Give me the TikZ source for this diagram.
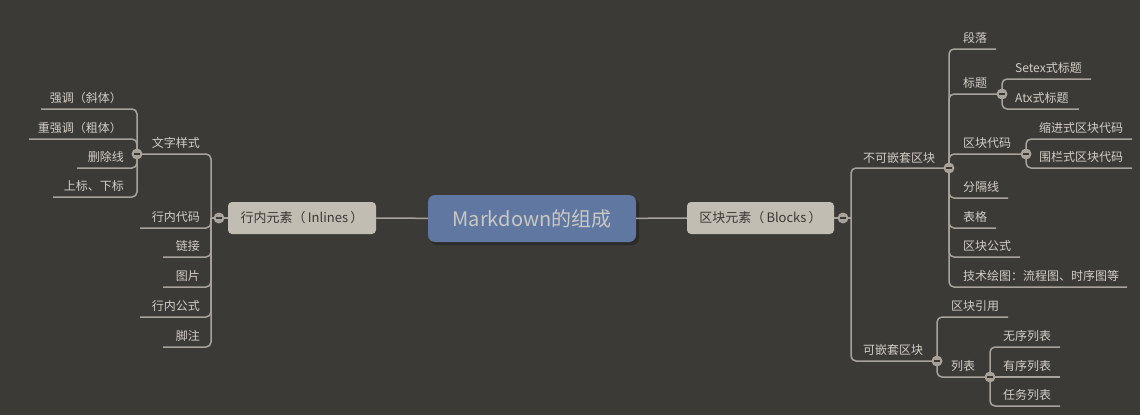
\documentclass[tikz,border=0pt]{standalone}
\usepackage{fontspec}
\setmainfont{Noto Sans CJK SC}
\definecolor{bg}{HTML}{3C3A37}
\definecolor{lc}{HTML}{A8A39A}
\definecolor{tc}{HTML}{D2CEC6}
\definecolor{nc}{HTML}{C2BDB2}
\definecolor{ntc}{HTML}{3A3835}
\definecolor{rc}{HTML}{5F77A1}
\definecolor{rtc}{HTML}{CBC8C2}
\begin{document}
\begin{tikzpicture}[x=1pt,y=-1pt,
  conn/.style={draw=lc, line width=1.5pt, rounded corners=5pt},
  lbl/.style={inner sep=0pt, text=tc, font=\fontsize{12pt}{14pt}\selectfont},
  lblr/.style={lbl, anchor=base west},
  lbll/.style={lbl, anchor=base east},
  toggle/.style={circle, fill=lc, minimum size=11pt, inner sep=0pt,
    path picture={\draw[bg, line width=1.4pt] ([xshift=-3pt]path picture bounding box.center) -- ([xshift=3pt]path picture bounding box.center);}},
  mainbox/.style={rounded corners=4pt, fill=nc, text=ntc, font=\fontsize{13pt}{15pt}\selectfont, minimum height=32pt, inner sep=0pt},
  rootbox/.style={rounded corners=7pt, fill=rc, text=rtc, font=\fontsize{20pt}{24pt}\selectfont, minimum height=47pt, minimum width=208pt, inner sep=0pt}
]
\fill[bg] (0,0) rectangle (1140,415);
\useasboundingbox (0,0) rectangle (1140,415);

% shadow of root
\fill[black, opacity=0.25, rounded corners=7pt] (430,198) rectangle (639,245);

% main nodes
\node[rootbox] (root) at (532,218.5) {Markdown的组成};
\node[mainbox, minimum width=148pt] (inl) at (302,218) {行内元素（\,Inlines\,）};
\node[mainbox, minimum width=147pt] (blk) at (760.5,218) {区块元素（\,Blocks\,）};

% toggle positions
\coordinate (tLp) at (219,218);
\coordinate (tRp) at (843,218);
\coordinate (tWp) at (137,154);
\coordinate (tNp) at (949,168);
\coordinate (tKp) at (937,361);
\coordinate (tTp) at (1002,94);
\coordinate (tQp) at (1026,154);
\coordinate (tLbp) at (990,377);
\coordinate (jL) at (211,218);
\coordinate (jR) at (851,218);

% left labels
\node[lbll] (wz) at (200,147) {文字样式};
\node[lbll] (hndm) at (200,221) {行内代码};
\node[lbll] (lj) at (200,250) {链接};
\node[lbll] (tp) at (200,280) {图片};
\node[lbll] (hngs) at (200,310) {行内公式};
\node[lbll] (jz) at (200,340) {脚注};
\node[lbll] (qd) at (122,102) {强调（斜体）};
\node[lbll] (zqd) at (122,132) {重强调（粗体）};
\node[lbll] (scx) at (124,161) {删除线};
\node[lbll] (sb) at (124,190) {上标、下标};

% right labels
\node[lblr] (bkq) at (863,162) {不可嵌套区块};
\node[lblr] (kq) at (863,354) {可嵌套区块};
\node[lblr] (dl) at (963,42) {段落};
\node[lblr] (bt) at (963,87) {标题};
\node[lblr] (qkdm) at (963,147) {区块代码};
\node[lblr] (fgx) at (963,191) {分隔线};
\node[lblr] (bg) at (963,221) {表格};
\node[lblr] (qkgs) at (963,250) {区块公式};
\node[lblr] (jsht) at (963,280) {技术绘图：流程图、时序图等};
\node[lblr] (setex) at (1015,72) {Setex式标题};
\node[lblr] (atx) at (1015,102) {Atx式标题};
\node[lblr] (sj) at (1039,132) {缩进式区块代码};
\node[lblr] (wl) at (1039,161) {围栏式区块代码};
\node[lblr] (qkyy) at (951,310) {区块引用};
\node[lblr] (lb) at (951,370) {列表};
\node[lblr] (wx) at (1003,340) {无序列表};
\node[lblr] (yx) at (1003,370) {有序列表};
\node[lblr] (rw) at (1003,399) {任务列表};

% underline ends
\coordinate (e-hndm) at (140,228);
\coordinate (e-lj) at (163,257);
\coordinate (e-tp) at (163,287);
\coordinate (e-hngs) at (140,317);
\coordinate (e-jz) at (163,347);
\coordinate (e-qd) at (41,109);
\coordinate (e-zqd) at (29,139);
\coordinate (e-scx) at (77,168);
\coordinate (e-sb) at (53,197);
\coordinate (e-dl) at (996,49);
\coordinate (e-fgx) at (1008,198);
\coordinate (e-bg) at (996,228);
\coordinate (e-qkgs) at (1020,257);
\coordinate (e-jsht) at (1127,287);
\coordinate (e-setex) at (1091,79);
\coordinate (e-atx) at (1079,109);
\coordinate (e-sj) at (1132,139);
\coordinate (e-wl) at (1132,168);
\coordinate (e-qkyy) at (1008,317);
\coordinate (e-wx) at (1060,347);
\coordinate (e-yx) at (1060,377);
\coordinate (e-rw) at (1060,406);

% connectors
\draw[conn] (root) -- (inl);
\draw[conn] (root) -- (blk);
\draw[conn] (inl.west) -- (tLp);
\draw[conn] (blk.east) -- (tRp);
\draw[conn] (tLp) -- (jL);
\draw[conn] (tRp) -- (jR);

\draw[conn] (jL) |- (tWp);
\foreach \e in {hndm,lj,tp,hngs,jz} \draw[conn] (jL) |- (e-\e);
\foreach \e in {qd,zqd,scx,sb} \draw[conn] (tWp) |- (e-\e);

\draw[conn] (jR) |- (tNp);
\draw[conn] (jR) |- (tKp);
\draw[conn] (tNp) |- (e-dl);
\draw[conn] (tNp) |- (tTp);
\draw[conn] (tNp) |- (tQp);
\foreach \e in {fgx,bg,qkgs,jsht} \draw[conn] (tNp) |- (e-\e);
\foreach \e in {setex,atx} \draw[conn] (tTp) |- (e-\e);
\foreach \e in {sj,wl} \draw[conn] (tQp) |- (e-\e);
\draw[conn] (tKp) |- (e-qkyy);
\draw[conn] (tKp) |- (tLbp);
\draw[conn] (tLbp) |- (e-wx);
\draw[conn] (tLbp) -- (e-yx);
\draw[conn] (tLbp) |- (e-rw);

% toggles
\node[toggle] (tL) at (tLp) {};
\node[toggle] (tR) at (tRp) {};
\node[toggle] (tW) at (tWp) {};
\node[toggle] (tN) at (tNp) {};
\node[toggle] (tK) at (tKp) {};
\node[toggle] (tT) at (tTp) {};
\node[toggle] (tQ) at (tQp) {};
\node[toggle] (tLb) at (tLbp) {};
\end{tikzpicture}
\end{document}
